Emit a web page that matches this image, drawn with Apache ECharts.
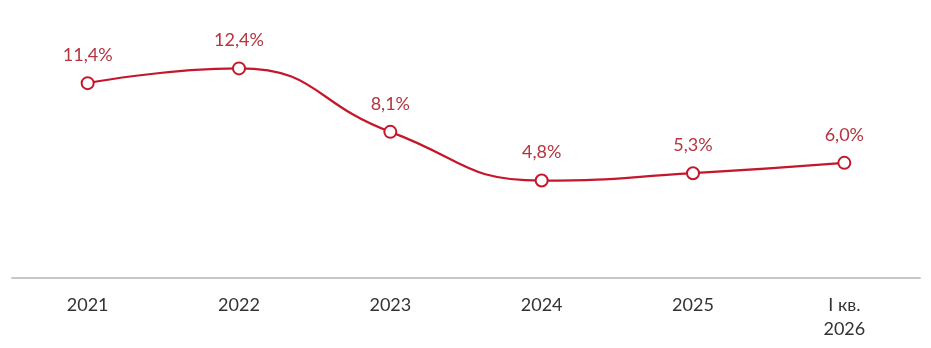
<!DOCTYPE html>
<html><head><meta charset="utf-8">
<script src="https://cdn.jsdelivr.net/npm/echarts@6/dist/echarts.min.js"></script>
<style>html,body{margin:0;padding:0;background:#fff}#c{width:931px;height:348px}</style>
</head><body><div id="c"></div>
<script>
const categories = ['2021', '2022', '2023', '2024', '2025', 'I кв.\n2026'];
const values = [11.4, 12.4, 8.1, 4.8, 5.3, 6.0];

const chart = echarts.init(document.getElementById('c'), null, {renderer: 'canvas'});
chart.setOption({
  animation: false,
  grid: {left: 12, right: 11, top: 30, bottom: 70, containLabel: false},
  xAxis: {
    type: 'category', data: categories, boundaryGap: true,
    axisLine: {onZero: false, lineStyle: {color: '#c8c8c8', width: 2}},
    axisTick: {show: false},
    axisLabel: {color: '#333', fontSize: 18, fontFamily: 'Lato', margin: 15, lineHeight: 24}
  },
  yAxis: {type: 'value', min: -1.8, max: 15, show: false, splitLine: {show: false}},
  series: [{
    type: 'line', data: values, smooth: 0.5,
    symbol: 'circle', symbolSize: 12,
    lineStyle: {color: '#c4172c', width: 2.2},
    itemStyle: {color: '#fff', borderColor: '#c4172c', borderWidth: 2},
    label: {
      show: true, position: 'top', distance: 12,
      color: '#b5343f', fontSize: 18, fontFamily: 'Lato',
      formatter: p => p.value.toFixed(1).replace('.', ',') + '%'
    }
  }]
});
</script></body></html>
